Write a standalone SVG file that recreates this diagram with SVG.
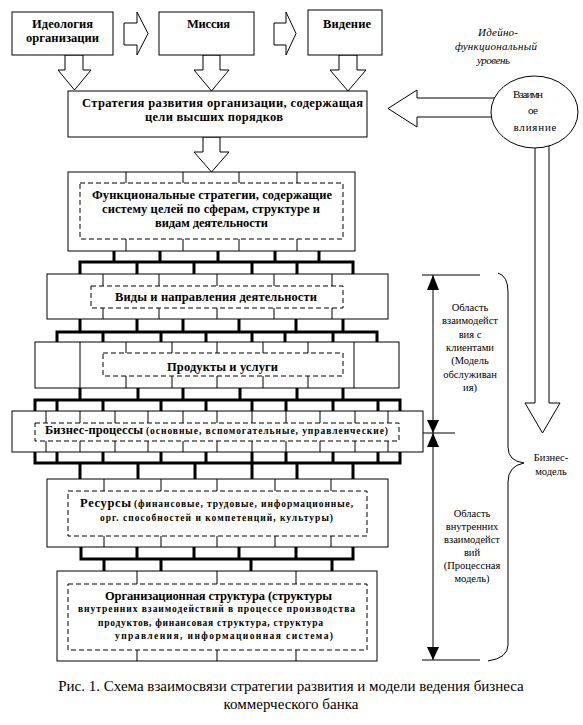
<svg xmlns="http://www.w3.org/2000/svg" width="583" height="725" viewBox="0 0 583 725">
<style>
.box{fill:#fff;stroke:#000;stroke-width:1}
.dash{fill:none;stroke:#000;stroke-width:1;stroke-dasharray:5 3}
.tk{stroke:#000;stroke-width:1;fill:none}
.thick{stroke:#000;stroke-width:3;fill:none;stroke-linecap:square}
.ha{fill:#fff;stroke:#000;stroke-width:1}
.fa{fill:#000;stroke:none}
.ln{stroke:#000;stroke-width:1;fill:none}
.b{font-family:"Liberation Serif","DejaVu Serif","Times New Roman",serif;font-weight:bold;fill:#000}
.r{font-family:"Liberation Serif","DejaVu Serif","Times New Roman",serif;fill:#000}
.i{font-family:"Liberation Serif","DejaVu Serif","Times New Roman",serif;font-style:italic;fill:#000}
.m{text-anchor:middle}
</style>
<rect width="583" height="725" fill="#fff"/>

<g id="connectors">
  <polygon class="ha" points="124,23 137,23 137,12 148,33.5 137,55 137,45 124,45"/>
  <polygon class="ha" points="274,23 286,23 286,12 296,33.5 286,55 286,45 274,45"/>
  <polygon class="ha" points="65,55 83,55 83,70 91,70 74.5,90 58,70 65,70"/>
  <polygon class="ha" points="203,55 220,55 220,70 229,70 211.5,91 194,70 203,70"/>
  <polygon class="ha" points="339,55 357,55 357,70 366,70 348,91 330,70 339,70"/>
  <polygon class="ha" points="203,137 220,137 220,152 229,152 211.5,172 194,152 203,152"/>
  <polygon class="ha" points="500,98 417,98 417,90 388,108.5 417,127 417,117 500,117"/>
  <polygon class="ha" points="535,130 535,403 525,403 542.5,433 560,403 549,403 549,130"/>
  <path class="thick" d="M114,251V262M160,251V262M218,251V262M275,251V262M319,251V262M80,262H353M80,262V274M137,262V274M194,262V274M252,262V274M297,262V274M353,262V274"/>
  <path class="thick" d="M80,319V332M137,319V332M183,319V332M239,319V332M296,319V332M343,319V332M57,332H377M57,332V342M103,332V342M161,332V342M206,332V342M252,332V342M285,332V342M333,332V342M377,332V342"/>
  <path class="thick" d="M80,388V400M138,388V400M183,388V400M240,388V400M297,388V400M343,388V400M35,400H400M35,400V411M57,400V411M103,400V411M161,400V411M206,400V411M252,400V411M286,400V411M333,400V411M378,400V411M400,400V411"/>
  <path class="thick" d="M35,452V463M57,452V463M103,452V463M161,452V463M206,452V463M252,452V463M286,452V463M333,452V463M378,452V463M400,452V463M35,463H400M80,463V479M138,463V479M195,463V479M252,463V479M297,463V479M353,463V479"/>
  <path class="thick" d="M81,547V559M137,547V559M194,547V559M239,547V559M296,547V559M353,547V559M81,559H353M104,559V571M161,559V571M251,559V571M332,559V571"/>
  <path class="ln" d="M433,275V660M422,275H480M423,433H455M422,660H480"/>
  <polygon class="fa" points="433,275 427,290 439,290"/>
  <polygon class="fa" points="433,433 427,420 439,420"/>
  <polygon class="fa" points="433,433 427,447 439,447"/>
  <polygon class="fa" points="433,660 427,647 439,647"/>
  <path class="ln" d="M498,273 Q508,276 508,292 L508,447 Q508,461 524,463 Q508,466 508,482 L508,645 Q508,658 488,661"/>
</g>

<g id="n-ideology">
  <rect class="box" x="12" y="12" width="101" height="43"/>
  <text class="b m" x="62.5" y="28" font-size="12.5" textLength="61">Идеология</text>
  <text class="b m" x="62.5" y="42" font-size="12.5" textLength="73">организации</text>
</g>
<g id="n-mission">
  <rect class="box" x="159" y="12" width="95" height="43"/>
  <text class="b m" x="208.5" y="28" font-size="12.5" textLength="43">Миссия</text>
</g>
<g id="n-vision">
  <rect class="box" x="308" y="10" width="74" height="45"/>
  <text class="b m" x="347" y="28" font-size="12.5" textLength="48">Видение</text>
</g>
<g id="n-strategy">
  <rect class="box" x="68" y="91" width="299" height="46"/>
  <text class="b m" x="222.5" y="107" font-size="12.5" textLength="281">Стратегия развития организации, содержащая</text>
  <text class="b m" x="214" y="121" font-size="12.5" textLength="138">цели высших порядков</text>
</g>
<g id="n-influence">
  <ellipse class="box" cx="534.5" cy="112" rx="43.5" ry="36"/>
  <text class="r m" x="528" y="98" font-size="11" textLength="30">Взаимн</text>
  <text class="r m" x="533" y="113.5" font-size="11" textLength="10">ое</text>
  <text class="r m" x="535" y="130.5" font-size="11" textLength="43">влияние</text>
</g>
<g id="n-level">
  <text class="i m" x="498" y="36" font-size="11" textLength="40">Идейно-</text>
  <text class="i m" x="496" y="50" font-size="11" textLength="82">функциональный</text>
  <text class="i m" x="493.5" y="64" font-size="11" textLength="33">уровень</text>
</g>
<g id="n-functional">
  <rect class="box" x="68" y="172" width="287" height="79"/>
  <path class="tk" d="M126,172V183M183,172V183M239,172V183M297,172V183M126,239V251M183,239V251M239,239V251M297,239V251"/>
  <rect class="dash" x="80" y="183" width="263" height="56"/>
  <text class="b m" x="212" y="199" font-size="12.5" textLength="240">Функциональные стратегии, содержащие</text>
  <text class="b m" x="211" y="212.5" font-size="12.5" textLength="218">систему целей по сферам, структуре и</text>
  <text class="b m" x="211.5" y="226.5" font-size="12.5" textLength="113">видам деятельности</text>
</g>
<g id="n-activities">
  <rect class="box" x="47" y="274" width="341" height="45"/>
  <path class="tk" d="M103,274V286M159,274V286M217,274V286M274,274V286M332,274V286M103,308V319M159,308V319M217,308V319M274,308V319M332,308V319"/>
  <rect class="dash" x="91" y="286" width="252" height="22"/>
  <text class="b m" x="216" y="301" font-size="12.5" textLength="202">Виды и направления деятельности</text>
</g>
<g id="n-products">
  <rect class="box" x="35" y="342" width="364" height="46"/>
  <path class="tk" d="M80,342V388M354,342V388M126,342V353M172,342V353M217,342V353M263,342V353M308,342V353M126,376V388M172,376V388M217,376V388M263,376V388M308,376V388"/>
  <rect class="dash" x="103" y="353" width="240" height="23"/>
  <text class="b m" x="222.5" y="371" font-size="12.5" textLength="111">Продукты и услуги</text>
</g>
<g id="n-processes">
  <rect class="box" x="12" y="411" width="411" height="41"/>
  <path class="tk" d="M46,411V423M80,411V423M115,411V423M148,411V423M183,411V423M217,411V423M252,411V423M286,411V423M320,411V423M355,411V423M388,411V423M46,441V452M80,441V452M115,441V452M148,441V452M183,441V452M217,441V452M252,441V452M286,441V452M320,441V452M355,441V452M388,441V452"/>
  <rect class="dash" x="35" y="423" width="364" height="18"/>
  <text class="b" x="45" y="434" font-size="12.5" textLength="98">Бизнес-процессы</text>
  <text class="b" x="146" y="434" font-size="9.5" textLength="242">(основные, вспомогательные, управленческие)</text>
</g>
<g id="n-resources">
  <rect class="box" x="47" y="479" width="341" height="68"/>
  <path class="tk" d="M104,479V491M161,479V491M217,479V491M275,479V491M331,479V491M104,536V547M161,536V547M217,536V547M275,536V547M331,536V547"/>
  <rect class="dash" x="68" y="491" width="299" height="45"/>
  <text class="b" x="80" y="507" font-size="12.5" textLength="51">Ресурсы</text>
  <text class="b" x="134" y="507" font-size="9.5" textLength="219">(финансовые, трудовые, информационные,</text>
  <text class="b m" x="216.5" y="521" font-size="9.5" textLength="233">орг. способностей и компетенций, культуры)</text>
</g>
<g id="n-orgstructure">
  <rect class="box" x="57" y="571" width="320" height="90"/>
  <path class="tk" d="M137,571V584M217,571V584M296,571V584M137,650V661M217,650V661M296,650V661"/>
  <rect class="dash" x="68" y="584" width="299" height="66"/>
  <text class="b m" x="218.5" y="600" font-size="12.5" textLength="227">Организационная структура (структуры</text>
  <text class="b m" x="216.5" y="612" font-size="9.5" textLength="277">внутренних взаимодействий в процессе производства</text>
  <text class="b m" x="210.5" y="625.5" font-size="9.5" textLength="225">продуктов, финансовая структура, структура</text>
  <text class="b m" x="224" y="638.5" font-size="9.5" textLength="218">управления, информационная система)</text>
</g>
<g id="n-client-area">
  <text class="r m" x="470" y="310.5" font-size="10.5">Область</text>
  <text class="r m" x="470" y="324" font-size="10.5">взаимодейст</text>
  <text class="r m" x="470" y="337.5" font-size="10.5">вия с</text>
  <text class="r m" x="470" y="351" font-size="10.5">клиентами</text>
  <text class="r m" x="470" y="364" font-size="10.5">(Модель</text>
  <text class="r m" x="470" y="377.5" font-size="10.5">обслуживан</text>
  <text class="r m" x="470" y="391" font-size="10.5">ия)</text>
</g>
<g id="n-internal-area">
  <text class="r m" x="472" y="516.5" font-size="10.5">Область</text>
  <text class="r m" x="472" y="529.5" font-size="10.5">внутренних</text>
  <text class="r m" x="472" y="542.5" font-size="10.5">взаимодейст</text>
  <text class="r m" x="472" y="555.5" font-size="10.5">вий</text>
  <text class="r m" x="472" y="568.5" font-size="10.5">(Процессная</text>
  <text class="r m" x="472" y="581.5" font-size="10.5">модель)</text>
</g>
<g id="n-business-model">
  <text class="r m" x="551" y="461" font-size="10.5">Бизнес-</text>
  <text class="r m" x="551" y="474.5" font-size="10.5">модель</text>
</g>
<g id="caption">
  <text class="r m" x="291" y="691" font-size="15">Рис. 1. Схема взаимосвязи стратегии развития и модели ведения бизнеса</text>
  <text class="r m" x="291" y="709" font-size="15">коммерческого банка</text>
</g>
</svg>
